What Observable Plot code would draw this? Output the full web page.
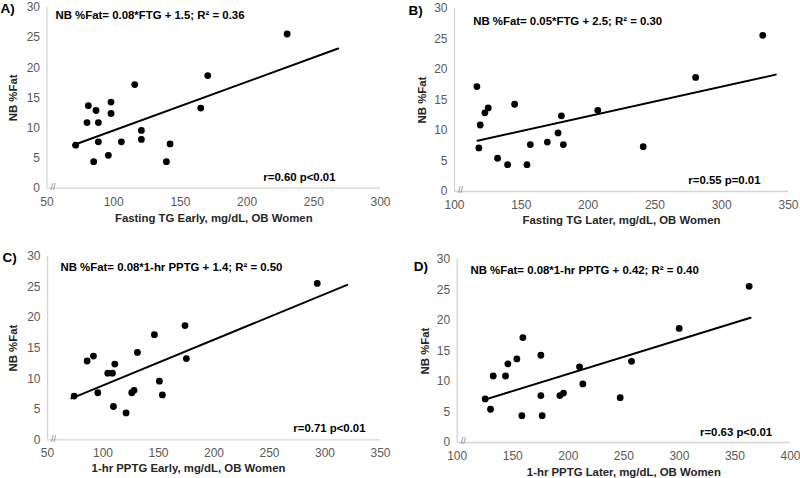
<!DOCTYPE html>
<html><head><meta charset="utf-8">
<script src="https://cdn.jsdelivr.net/npm/d3@7"></script>
<script src="https://cdn.jsdelivr.net/npm/@observablehq/plot@0.6"></script>
<style>
body{margin:0;background:#fff;}
#wrap{position:relative;width:800px;height:478px;overflow:hidden;background:#fff;font-family:"Liberation Sans",Arial,sans-serif;}
.panel{position:absolute;}
</style></head><body><div id="wrap"></div>
<script>
// ---- data ----
const yTicks = [0, 5, 10, 15, 20, 25, 30];
const xTicksA = [50, 100, 150, 200, 250, 300];
const xTicksB = [100, 150, 200, 250, 300, 350];
const xTicksC = [50, 100, 150, 200, 250, 300, 350];
const xTicksD = [100, 150, 200, 250, 300, 350, 400];

// A) Fasting TG Early
const fastingTgEarly = [71.5, 85, 81, 80, 86.75, 88.5, 88.5, 96, 98, 98, 105.75, 115.75, 120.75, 120.75, 139.5, 142.25, 165.25, 170.5, 230];
const nbFatA =         [7.15, 4.4, 13.7, 10.9, 12.9, 10.9, 7.7, 5.45, 14.3, 12.4, 7.7, 17.2, 9.6, 8.1, 4.4, 7.35, 13.3, 18.7, 25.6];
const fitAx = [69.5, 268.25];
const fitAy = [7.13, 23.19];

// B) Fasting TG Later
const fastingTgLater = [116.75, 119.25, 118.25, 122.75, 125.25, 132.25, 139.75, 145, 154.25, 156.75, 169.5, 177.5, 180, 181.5, 207.25, 241.25, 280.5, 330.75];
const nbFatB =         [17.2, 10.9, 7.15, 12.9, 13.7, 5.45, 4.4, 14.3, 4.4, 7.7, 8.1, 9.6, 12.4, 7.7, 13.3, 7.35, 18.7, 25.6];
const fitBx = [117.25, 340.5];
const fitBy = [8.33, 19.16];

// C) 1-hr PPTG Early
const pptgEarly = [74, 85.7, 91.4, 95.3, 104.3, 108.5, 109.4, 110.6, 120.8, 125.9, 128, 131, 146.3, 150.8, 153.5, 173.9, 175.1, 293];
const nbFatC =    [7.15, 12.9, 13.7, 7.7, 10.9, 10.9, 5.45, 12.4, 4.4, 7.7, 8.1, 14.3, 17.2, 9.6, 7.35, 18.7, 13.3, 25.6];
const fitCx = [71.6, 320];
const fitCy = [6.78, 25.36];

// D) 1-hr PPTG Later
const pptgLater = [125.2, 130, 132.4, 143.5, 145.6, 153.7, 158.2, 159.1, 175.3, 175.3, 176.5, 192.4, 195.7, 210.1, 213.1, 246.7, 256.9, 299.8, 362.8];
const nbFatD =    [7.15, 5.45, 10.9, 10.9, 12.9, 13.7, 4.4, 17.2, 14.3, 7.7, 4.4, 7.7, 8.1, 12.4, 9.6, 7.35, 13.3, 18.7, 25.6];
const fitDx = [124.9, 364];
const fitDy = [7.03, 20.44];

const panelLabels = ["A)", "B)", "C)", "D)"];
const equations = [
  "NB %Fat= 0.08*FTG + 1.5; R² = 0.36",
  "NB %Fat= 0.05*FTG + 2.5; R² = 0.30",
  "NB %Fat= 0.08*1-hr PPTG + 1.4; R² = 0.50",
  "NB %Fat= 0.08*1-hr PPTG + 0.42; R² = 0.40"
];
const stats = ["r=0.60 p<0.01", "r=0.55 p=0.01", "r=0.71 p<0.01", "r=0.63 p<0.01"];
const xTitles = [
  "Fasting TG Early, mg/dL, OB Women",
  "Fasting TG Later, mg/dL, OB Women",
  "1-hr PPTG Early, mg/dL, OB Women",
  "1-hr PPTG Later, mg/dL, OB Women"
];
const yTitle = "NB %Fat";

// ---- layout ----
const layouts = [
  {left: 0,   top: 0,   height: 239, mt: 7,  ml: 46.5, mr: 20, mb: 51.3,
   lab: [-46.5, 1], eq: [8.5, 8], st: [-45, -11], xt: [0, 30.5], yt: -33.5},
  {left: 400, top: 0,   height: 239, mt: 8,  ml: 54,   mr: 12, mb: 48,
   lab: [-46, 2], eq: [18.7, 12.7], st: [-28, -11], xt: [0, 29], yt: -32},
  {left: 0,   top: 239, height: 239, mt: 17, ml: 47,   mr: 20, mb: 38.7,
   lab: [-45, 1], eq: [13, 11.3], st: [-15, -11.3], xt: [-25.5, 29], yt: -34},
  {left: 400, top: 239, height: 239, mt: 20, ml: 56.7, mr: 10, mb: 36,
   lab: [-43.5, 7], eq: [13.3, 11.3], st: [-18.3, -9.7], xt: [0, 30], yt: -31.7}
];

const panels = [
  {x: fastingTgEarly, y: nbFatA, fx: fitAx, fy: fitAy, ticks: xTicksA},
  {x: fastingTgLater, y: nbFatB, fx: fitBx, fy: fitBy, ticks: xTicksB},
  {x: pptgEarly,      y: nbFatC, fx: fitCx, fy: fitCy, ticks: xTicksC},
  {x: pptgLater,      y: nbFatD, fx: fitDx, fy: fitDy, ticks: xTicksD}
];

const wrap = document.getElementById("wrap");
const FONT = "Liberation Sans, Arial, Helvetica, sans-serif";

panels.forEach((p, i) => {
  const L = layouts[i];
  const pts = p.x.map((v, k) => ({x: v, y: p.y[k]}));
  const fit = p.fx.map((v, k) => ({x: v, y: p.fy[k]}));
  const xDom = [p.ticks[0], p.ticks[p.ticks.length - 1]];
  const chart = Plot.plot({
    width: 400,
    height: L.height,
    marginTop: L.mt, marginLeft: L.ml, marginRight: L.mr, marginBottom: L.mb,
    style: {fontFamily: FONT, fontSize: "12px", background: "#fff", color: "#595959", overflow: "visible"},
    x: {domain: xDom},
    y: {domain: [0, 30]},
    marks: [
      Plot.ruleX([xDom[0]], {stroke: "#d4d4d4", strokeWidth: 1.3}),
      Plot.ruleY([0], {stroke: "#d4d4d4", strokeWidth: 1.3}),
      Plot.axisX({ticks: p.ticks, tickSize: 0, tickPadding: 9, label: null, fontSize: 12}),
      Plot.axisY({ticks: yTicks, tickSize: 0, tickPadding: 7, label: null, fontSize: 12}),
      Plot.text(["//"], {text: d => d, frameAnchor: "bottom-left", dx: 6, dy: -1, fontSize: 9, fill: "#7f7f7f", textAnchor: "middle", lineAnchor: "middle"}),
      Plot.line(fit, {x: "x", y: "y", stroke: "#000", strokeWidth: 2}),
      Plot.dot(pts, {x: "x", y: "y", r: 3.4, fill: "#000", stroke: "none"}),
      Plot.text([panelLabels[i]], {text: d => d, frameAnchor: "top-left", dx: L.lab[0], dy: L.lab[1], textAnchor: "start", lineAnchor: "middle", fontWeight: "bold", fontSize: 13.5, fill: "#000"}),
      Plot.text([equations[i]], {text: d => d, frameAnchor: "top-left", dx: L.eq[0], dy: L.eq[1], textAnchor: "start", lineAnchor: "middle", fontWeight: "bold", fontSize: 11.4, fill: "#000"}),
      Plot.text([stats[i]], {text: d => d, frameAnchor: "bottom-right", dx: L.st[0], dy: L.st[1], textAnchor: "end", lineAnchor: "middle", fontWeight: "bold", fontSize: 11.4, fill: "#000"}),
      Plot.text([xTitles[i]], {text: d => d, frameAnchor: "bottom", dx: L.xt[0], dy: L.xt[1], textAnchor: "middle", lineAnchor: "middle", fontWeight: "bold", fontSize: 11.4, fill: "#262626"}),
      Plot.text([yTitle], {text: d => d, frameAnchor: "left", dx: L.yt, rotate: -90, textAnchor: "middle", lineAnchor: "middle", fontWeight: "bold", fontSize: 11.4, fill: "#262626"})
    ]
  });
  const div = document.createElement("div");
  div.className = "panel";
  div.style.left = L.left + "px";
  div.style.top = L.top + "px";
  div.appendChild(chart);
  wrap.appendChild(div);
});
</script>
</body></html>
